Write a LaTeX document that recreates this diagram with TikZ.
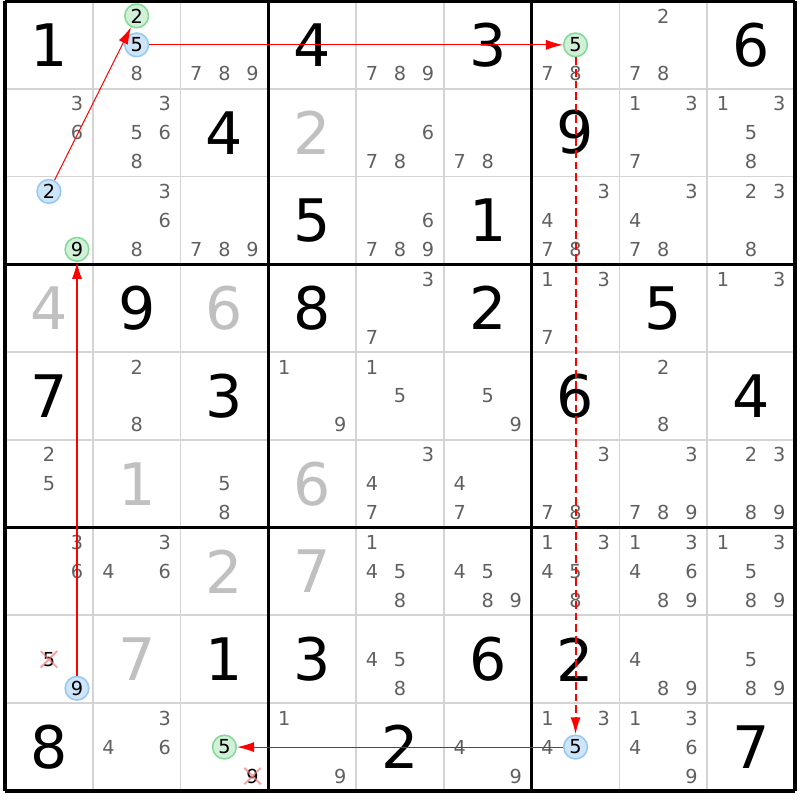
\documentclass[tikz,border=0pt]{standalone}
\usepackage{fontspec}
\setmainfont{DejaVu Sans}
\usetikzlibrary{arrows.meta}

\definecolor{gridgray}{RGB}{212,212,212}
\definecolor{candgray}{RGB}{96,96,96}
\definecolor{solvedgray}{RGB}{192,192,192}
\definecolor{bluefill}{RGB}{206,228,248}
\definecolor{blueline}{RGB}{150,200,240}
\definecolor{greenfill}{RGB}{210,240,216}
\definecolor{greenline}{RGB}{130,218,150}
\definecolor{strikered}{RGB}{240,120,120}
\definecolor{chainred}{RGB}{255,0,0}

\begin{document}
\begin{tikzpicture}[x=2cm,y=2cm,>={Latex[length=11pt,width=6.5pt]},
    minor/.style={draw=gridgray,line width=1.2pt},
    major/.style={draw=black,line width=2pt},
    given/.style={font=\fontsize{38}{38}\selectfont,text=black,inner sep=0pt},
    solved/.style={given,text=solvedgray},
    cand/.style={font=\fontsize{12.5}{12.5}\selectfont,text=candgray,inner sep=0pt},
    cand1/.style={cand,xshift=-0.64cm,yshift=0.66cm},
    cand2/.style={cand,yshift=0.66cm},
    cand3/.style={cand,xshift=0.64cm,yshift=0.66cm},
    cand4/.style={cand,xshift=-0.64cm},
    cand5/.style={cand},
    cand6/.style={cand,xshift=0.64cm},
    cand7/.style={cand,xshift=-0.64cm,yshift=-0.66cm},
    cand8/.style={cand,yshift=-0.66cm},
    cand9/.style={cand,xshift=0.64cm,yshift=-0.66cm},
    bluemark/.style={circle,draw=blueline,fill=bluefill,line width=1pt,minimum size=0.54cm,text=black},
    greenmark/.style={circle,draw=greenline,fill=greenfill,line width=1pt,minimum size=0.54cm,text=black},
    struck/.style={text=black,minimum size=0.36cm},
    strike/.style={draw=strikered,line width=1.2pt,opacity=0.7},
    link/.style={draw=chainred,line width=0.7pt},
    weaklink/.style={draw=chainred,line width=1.3pt,dash pattern=on 5pt off 2.5pt}]
    \useasboundingbox (-0.057,0.011) rectangle (9.057,-9.103);

    \draw[minor,step=1] (0,-9) grid (9,0);
    \draw[major,step=3] (0,-9) grid (9,0);

    % row 1
    \node[given] (r1c1) at (0.5,-0.5) {1};
    \node[cand2,greenmark] (r1c2n2) at (1.5,-0.5) {2};
    \node[cand5,bluemark] (r1c2n5) at (1.5,-0.5) {5};
    \node[cand8] (r1c2n8) at (1.5,-0.5) {8};
    \node[cand7] (r1c3n7) at (2.5,-0.5) {7}; \node[cand8] (r1c3n8) at (2.5,-0.5) {8}; \node[cand9] (r1c3n9) at (2.5,-0.5) {9};
    \node[given] (r1c4) at (3.5,-0.5) {4};
    \node[cand7] (r1c5n7) at (4.5,-0.5) {7}; \node[cand8] (r1c5n8) at (4.5,-0.5) {8}; \node[cand9] (r1c5n9) at (4.5,-0.5) {9};
    \node[given] (r1c6) at (5.5,-0.5) {3};
    \node[cand5,greenmark] (r1c7n5) at (6.5,-0.5) {5};
    \node[cand7] (r1c7n7) at (6.5,-0.5) {7}; \node[cand8] (r1c7n8) at (6.5,-0.5) {8};
    \node[cand2] (r1c8n2) at (7.5,-0.5) {2}; \node[cand7] (r1c8n7) at (7.5,-0.5) {7}; \node[cand8] (r1c8n8) at (7.5,-0.5) {8};
    \node[given] (r1c9) at (8.5,-0.5) {6};

    % row 2
    \node[cand3] (r2c1n3) at (0.5,-1.5) {3}; \node[cand6] (r2c1n6) at (0.5,-1.5) {6};
    \node[cand3] (r2c2n3) at (1.5,-1.5) {3}; \node[cand5] (r2c2n5) at (1.5,-1.5) {5}; \node[cand6] (r2c2n6) at (1.5,-1.5) {6}; \node[cand8] (r2c2n8) at (1.5,-1.5) {8};
    \node[given] (r2c3) at (2.5,-1.5) {4};
    \node[solved] (r2c4) at (3.5,-1.5) {2};
    \node[cand6] (r2c5n6) at (4.5,-1.5) {6}; \node[cand7] (r2c5n7) at (4.5,-1.5) {7}; \node[cand8] (r2c5n8) at (4.5,-1.5) {8};
    \node[cand7] (r2c6n7) at (5.5,-1.5) {7}; \node[cand8] (r2c6n8) at (5.5,-1.5) {8};
    \node[given] (r2c7) at (6.5,-1.5) {9};
    \node[cand1] (r2c8n1) at (7.5,-1.5) {1}; \node[cand3] (r2c8n3) at (7.5,-1.5) {3}; \node[cand7] (r2c8n7) at (7.5,-1.5) {7};
    \node[cand1] (r2c9n1) at (8.5,-1.5) {1}; \node[cand3] (r2c9n3) at (8.5,-1.5) {3}; \node[cand5] (r2c9n5) at (8.5,-1.5) {5}; \node[cand8] (r2c9n8) at (8.5,-1.5) {8};

    % row 3
    \node[cand2,bluemark] (r3c1n2) at (0.5,-2.5) {2};
    \node[cand9,greenmark] (r3c1n9) at (0.5,-2.5) {9};
    \node[cand3] (r3c2n3) at (1.5,-2.5) {3}; \node[cand6] (r3c2n6) at (1.5,-2.5) {6}; \node[cand8] (r3c2n8) at (1.5,-2.5) {8};
    \node[cand7] (r3c3n7) at (2.5,-2.5) {7}; \node[cand8] (r3c3n8) at (2.5,-2.5) {8}; \node[cand9] (r3c3n9) at (2.5,-2.5) {9};
    \node[given] (r3c4) at (3.5,-2.5) {5};
    \node[cand6] (r3c5n6) at (4.5,-2.5) {6}; \node[cand7] (r3c5n7) at (4.5,-2.5) {7}; \node[cand8] (r3c5n8) at (4.5,-2.5) {8}; \node[cand9] (r3c5n9) at (4.5,-2.5) {9};
    \node[given] (r3c6) at (5.5,-2.5) {1};
    \node[cand3] (r3c7n3) at (6.5,-2.5) {3}; \node[cand4] (r3c7n4) at (6.5,-2.5) {4}; \node[cand7] (r3c7n7) at (6.5,-2.5) {7}; \node[cand8] (r3c7n8) at (6.5,-2.5) {8};
    \node[cand3] (r3c8n3) at (7.5,-2.5) {3}; \node[cand4] (r3c8n4) at (7.5,-2.5) {4}; \node[cand7] (r3c8n7) at (7.5,-2.5) {7}; \node[cand8] (r3c8n8) at (7.5,-2.5) {8};
    \node[cand2] (r3c9n2) at (8.5,-2.5) {2}; \node[cand3] (r3c9n3) at (8.5,-2.5) {3}; \node[cand8] (r3c9n8) at (8.5,-2.5) {8};

    % row 4
    \node[solved] (r4c1) at (0.5,-3.5) {4};
    \node[given] (r4c2) at (1.5,-3.5) {9};
    \node[solved] (r4c3) at (2.5,-3.5) {6};
    \node[given] (r4c4) at (3.5,-3.5) {8};
    \node[cand3] (r4c5n3) at (4.5,-3.5) {3}; \node[cand7] (r4c5n7) at (4.5,-3.5) {7};
    \node[given] (r4c6) at (5.5,-3.5) {2};
    \node[cand1] (r4c7n1) at (6.5,-3.5) {1}; \node[cand3] (r4c7n3) at (6.5,-3.5) {3}; \node[cand7] (r4c7n7) at (6.5,-3.5) {7};
    \node[given] (r4c8) at (7.5,-3.5) {5};
    \node[cand1] (r4c9n1) at (8.5,-3.5) {1}; \node[cand3] (r4c9n3) at (8.5,-3.5) {3};

    % row 5
    \node[given] (r5c1) at (0.5,-4.5) {7};
    \node[cand2] (r5c2n2) at (1.5,-4.5) {2}; \node[cand8] (r5c2n8) at (1.5,-4.5) {8};
    \node[given] (r5c3) at (2.5,-4.5) {3};
    \node[cand1] (r5c4n1) at (3.5,-4.5) {1}; \node[cand9] (r5c4n9) at (3.5,-4.5) {9};
    \node[cand1] (r5c5n1) at (4.5,-4.5) {1}; \node[cand5] (r5c5n5) at (4.5,-4.5) {5};
    \node[cand5] (r5c6n5) at (5.5,-4.5) {5}; \node[cand9] (r5c6n9) at (5.5,-4.5) {9};
    \node[given] (r5c7) at (6.5,-4.5) {6};
    \node[cand2] (r5c8n2) at (7.5,-4.5) {2}; \node[cand8] (r5c8n8) at (7.5,-4.5) {8};
    \node[given] (r5c9) at (8.5,-4.5) {4};

    % row 6
    \node[cand2] (r6c1n2) at (0.5,-5.5) {2}; \node[cand5] (r6c1n5) at (0.5,-5.5) {5};
    \node[solved] (r6c2) at (1.5,-5.5) {1};
    \node[cand5] (r6c3n5) at (2.5,-5.5) {5}; \node[cand8] (r6c3n8) at (2.5,-5.5) {8};
    \node[solved] (r6c4) at (3.5,-5.5) {6};
    \node[cand3] (r6c5n3) at (4.5,-5.5) {3}; \node[cand4] (r6c5n4) at (4.5,-5.5) {4}; \node[cand7] (r6c5n7) at (4.5,-5.5) {7};
    \node[cand4] (r6c6n4) at (5.5,-5.5) {4}; \node[cand7] (r6c6n7) at (5.5,-5.5) {7};
    \node[cand3] (r6c7n3) at (6.5,-5.5) {3}; \node[cand7] (r6c7n7) at (6.5,-5.5) {7}; \node[cand8] (r6c7n8) at (6.5,-5.5) {8};
    \node[cand3] (r6c8n3) at (7.5,-5.5) {3}; \node[cand7] (r6c8n7) at (7.5,-5.5) {7}; \node[cand8] (r6c8n8) at (7.5,-5.5) {8}; \node[cand9] (r6c8n9) at (7.5,-5.5) {9};
    \node[cand2] (r6c9n2) at (8.5,-5.5) {2}; \node[cand3] (r6c9n3) at (8.5,-5.5) {3}; \node[cand8] (r6c9n8) at (8.5,-5.5) {8}; \node[cand9] (r6c9n9) at (8.5,-5.5) {9};

    % row 7
    \node[cand3] (r7c1n3) at (0.5,-6.5) {3}; \node[cand6] (r7c1n6) at (0.5,-6.5) {6};
    \node[cand3] (r7c2n3) at (1.5,-6.5) {3}; \node[cand4] (r7c2n4) at (1.5,-6.5) {4}; \node[cand6] (r7c2n6) at (1.5,-6.5) {6};
    \node[solved] (r7c3) at (2.5,-6.5) {2};
    \node[solved] (r7c4) at (3.5,-6.5) {7};
    \node[cand1] (r7c5n1) at (4.5,-6.5) {1}; \node[cand4] (r7c5n4) at (4.5,-6.5) {4}; \node[cand5] (r7c5n5) at (4.5,-6.5) {5}; \node[cand8] (r7c5n8) at (4.5,-6.5) {8};
    \node[cand4] (r7c6n4) at (5.5,-6.5) {4}; \node[cand5] (r7c6n5) at (5.5,-6.5) {5}; \node[cand8] (r7c6n8) at (5.5,-6.5) {8}; \node[cand9] (r7c6n9) at (5.5,-6.5) {9};
    \node[cand1] (r7c7n1) at (6.5,-6.5) {1}; \node[cand3] (r7c7n3) at (6.5,-6.5) {3}; \node[cand4] (r7c7n4) at (6.5,-6.5) {4}; \node[cand5] (r7c7n5) at (6.5,-6.5) {5}; \node[cand8] (r7c7n8) at (6.5,-6.5) {8};
    \node[cand1] (r7c8n1) at (7.5,-6.5) {1}; \node[cand3] (r7c8n3) at (7.5,-6.5) {3}; \node[cand4] (r7c8n4) at (7.5,-6.5) {4}; \node[cand6] (r7c8n6) at (7.5,-6.5) {6}; \node[cand8] (r7c8n8) at (7.5,-6.5) {8}; \node[cand9] (r7c8n9) at (7.5,-6.5) {9};
    \node[cand1] (r7c9n1) at (8.5,-6.5) {1}; \node[cand3] (r7c9n3) at (8.5,-6.5) {3}; \node[cand5] (r7c9n5) at (8.5,-6.5) {5}; \node[cand8] (r7c9n8) at (8.5,-6.5) {8}; \node[cand9] (r7c9n9) at (8.5,-6.5) {9};

    % row 8
    \node[cand5,struck] (r8c1n5) at (0.5,-7.5) {5};
    \node[cand9,bluemark] (r8c1n9) at (0.5,-7.5) {9};
    \node[solved] (r8c2) at (1.5,-7.5) {7};
    \node[given] (r8c3) at (2.5,-7.5) {1};
    \node[given] (r8c4) at (3.5,-7.5) {3};
    \node[cand4] (r8c5n4) at (4.5,-7.5) {4}; \node[cand5] (r8c5n5) at (4.5,-7.5) {5}; \node[cand8] (r8c5n8) at (4.5,-7.5) {8};
    \node[given] (r8c6) at (5.5,-7.5) {6};
    \node[given] (r8c7) at (6.5,-7.5) {2};
    \node[cand4] (r8c8n4) at (7.5,-7.5) {4}; \node[cand8] (r8c8n8) at (7.5,-7.5) {8}; \node[cand9] (r8c8n9) at (7.5,-7.5) {9};
    \node[cand5] (r8c9n5) at (8.5,-7.5) {5}; \node[cand8] (r8c9n8) at (8.5,-7.5) {8}; \node[cand9] (r8c9n9) at (8.5,-7.5) {9};

    % row 9
    \node[given] (r9c1) at (0.5,-8.5) {8};
    \node[cand3] (r9c2n3) at (1.5,-8.5) {3}; \node[cand4] (r9c2n4) at (1.5,-8.5) {4}; \node[cand6] (r9c2n6) at (1.5,-8.5) {6};
    \node[cand5,greenmark] (r9c3n5) at (2.5,-8.5) {5};
    \node[cand9,struck] (r9c3n9) at (2.5,-8.5) {9};
    \node[cand1] (r9c4n1) at (3.5,-8.5) {1}; \node[cand9] (r9c4n9) at (3.5,-8.5) {9};
    \node[given] (r9c5) at (4.5,-8.5) {2};
    \node[cand4] (r9c6n4) at (5.5,-8.5) {4}; \node[cand9] (r9c6n9) at (5.5,-8.5) {9};
    \node[cand1] (r9c7n1) at (6.5,-8.5) {1}; \node[cand3] (r9c7n3) at (6.5,-8.5) {3}; \node[cand4] (r9c7n4) at (6.5,-8.5) {4};
    \node[cand5,bluemark] (r9c7n5) at (6.5,-8.5) {5};
    \node[cand1] (r9c8n1) at (7.5,-8.5) {1}; \node[cand3] (r9c8n3) at (7.5,-8.5) {3}; \node[cand4] (r9c8n4) at (7.5,-8.5) {4}; \node[cand6] (r9c8n6) at (7.5,-8.5) {6}; \node[cand9] (r9c8n9) at (7.5,-8.5) {9};
    \node[given] (r9c9) at (8.5,-8.5) {7};

    % eliminations
    \draw[strike] (r8c1n5.north west) -- (r8c1n5.south east) (r8c1n5.north east) -- (r8c1n5.south west);
    \draw[strike] (r9c3n9.north west) -- (r9c3n9.south east) (r9c3n9.north east) -- (r9c3n9.south west);

    % chain
    \draw[link,->] (r3c1n2) -- (r1c2n2);
    \draw[link,->] (r1c2n5) -- (r1c7n5);
    \draw[weaklink,->] (r1c7n5) -- (r9c7n5);
    \draw[link,->] (r9c7n5) -- (r9c3n5);
    \draw[link,->] (r8c1n9) -- (r3c1n9);
\end{tikzpicture}
\end{document}
